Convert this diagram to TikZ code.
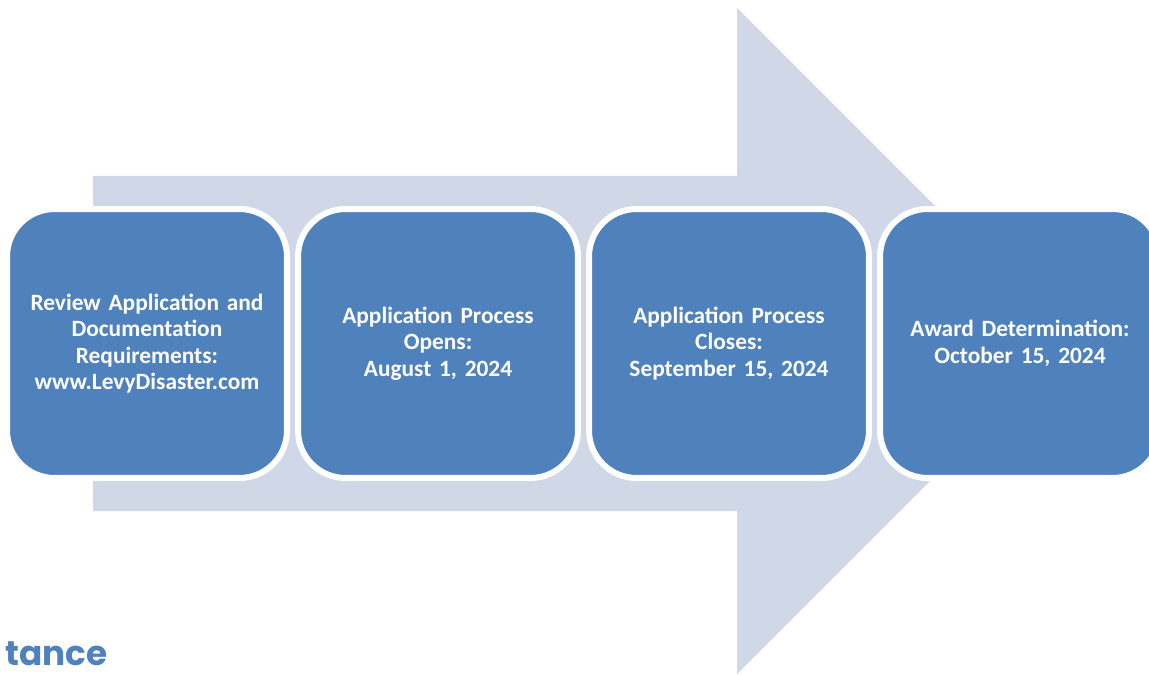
\documentclass[tikz,border=0pt]{standalone}
\usepackage{fontspec}
\setmainfont{Carlito}
\newfontfamily\gothic{Poppins}
\definecolor{boxblue}{HTML}{4F81BD}
\definecolor{arrowgrey}{HTML}{D0D8E8}

\begin{document}
\begin{tikzpicture}[x=0.02cm,y=-0.02cm,
    stagebox/.style={draw=white, line width=0.12cm, fill=boxblue,
        rounded corners=0.95cm, minimum width=5.6cm, minimum height=5.38cm,
        text=white, align=center, text width=5.1cm,
        font=\bfseries\fontsize{13.3}{15.1}\selectfont}]
    \useasboundingbox (0,0) rectangle (1149,675);
    \clip (0,0) rectangle (1149,675);
    % Big arrow behind the stages
    \fill[arrowgrey] (93,176) -- (737,176) -- (737,8) -- (1070,341)
        -- (737,674) -- (737,511) -- (93,511) -- cycle;
    % Stages
    \node[stagebox] (review) at (147,343.5) {Review Application and\\Documentation\\Requirements:\\www.LevyDisaster.com};
    \node[stagebox] (opens) at (438,343.5) {Application Process\\Opens:\\August 1, 2024};
    \node[stagebox] (closes) at (729,343.5) {Application Process\\Closes:\\September 15, 2024};
    \node[stagebox] (award) at (1020,343.5) {Award Determination:\\October 15, 2024};
    % Word at bottom left
    \node[text=boxblue, inner sep=1pt, anchor=base west,
        font=\gothic\bfseries\fontsize{19.5}{24}\selectfont] (assist) at (3,665) {tance};
\end{tikzpicture}
\end{document}
